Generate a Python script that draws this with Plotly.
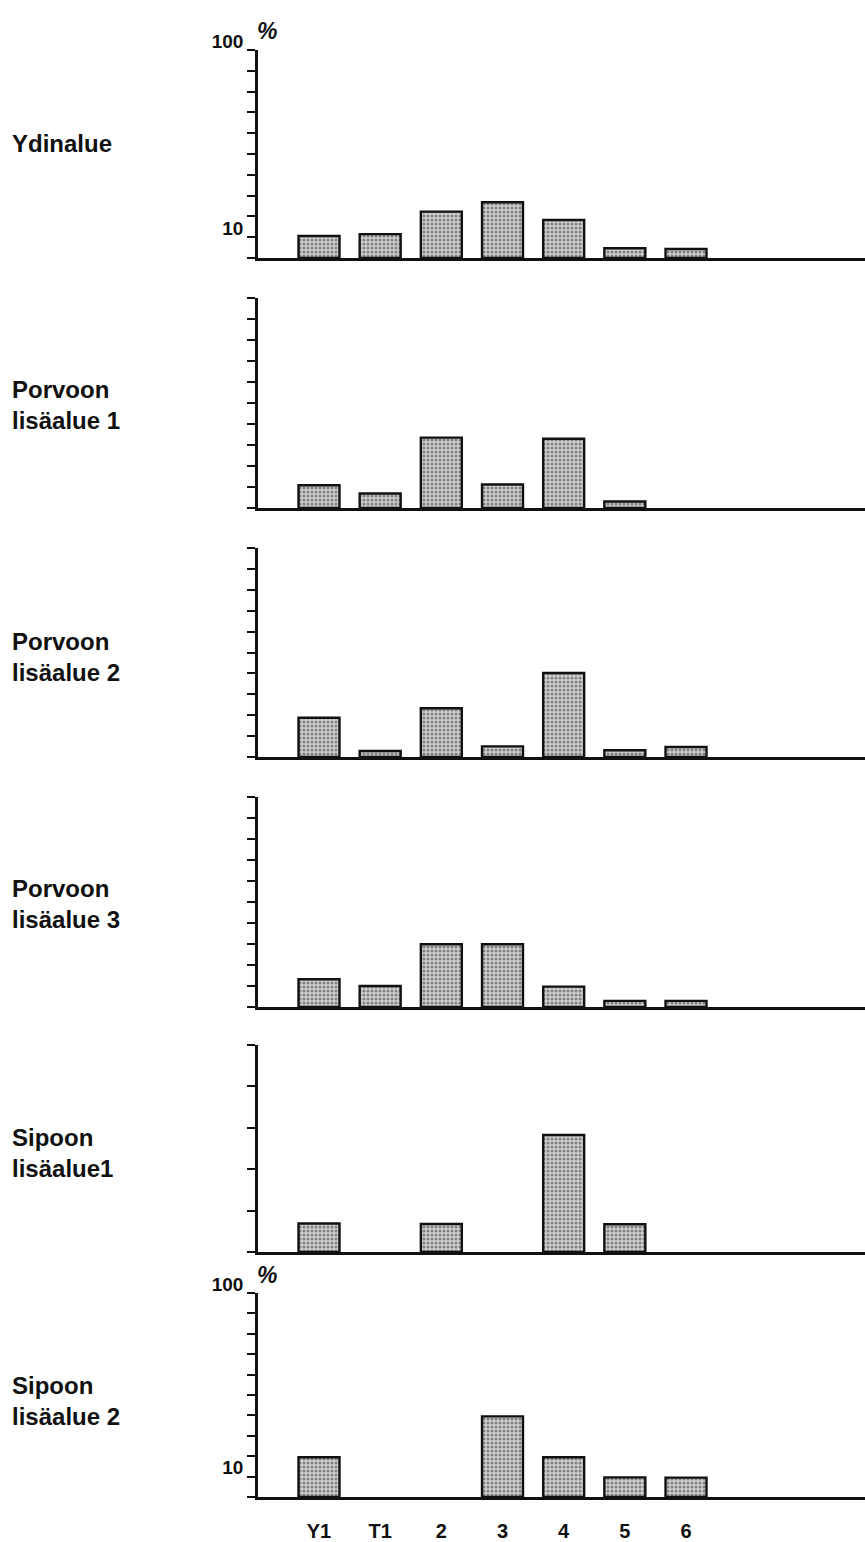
import plotly.graph_objects as go

PAGE_W, PAGE_H = 865, 1542
M = 0  # body margin removed in the page (post_script below)
W, H = PAGE_W - 2 * M, PAGE_H - 2 * M

categories = ["Y1", "T1", "2", "3", "4", "5", "6"]

ydinalue = [10.6, 11.5, 22.3, 26.8, 18.3, 4.7, 4.3]
porvoo_1 = [10.8, 6.9, 33.5, 11.2, 33.0, 3.1, None]
porvoo_2 = [18.8, 2.9, 23.3, 5.1, 40.2, 3.2, 4.8]
porvoo_3 = [13.2, 10.0, 29.9, 29.9, 9.7, 2.9, 2.9]
sipoo_1 = [13.8, None, 13.5, None, 56.5, 13.4, None]
sipoo_2 = [19.5, None, None, 39.5, 19.5, 9.6, 9.5]

panel_names = ["Ydinalue", "Porvoon<br>lisäalue 1", "Porvoon<br>lisäalue 2",
               "Porvoon<br>lisäalue 3", "Sipoon<br>lisäalue1", "Sipoon<br>lisäalue 2"]
series = [ydinalue, porvoo_1, porvoo_2, porvoo_3, sipoo_1, sipoo_2]

# page pixel layout (top of axis, baseline)
panels_px = [(50, 258), (298, 508), (548, 757), (797, 1007), (1045, 1252), (1293, 1497)]
label_y_px = [143, 405, 657, 904, 1153, 1401]


def py(p):
    return 1 - (p - M) / H


def px(p):
    return (p - M) / W


FONT = "Liberation Sans, Arial, DejaVu Sans, sans-serif"

fig = go.Figure()
x_dom = [px(258), 1.0]
c0 = 319.0
step = 61.17
x_range = [(258 - c0) / step, (PAGE_W - M - c0) / step]

for i, (vals, (top, base)) in enumerate(zip(series, panels_px)):
    n = i + 1
    xa = "x" if n == 1 else f"x{n}"
    ya = "y" if n == 1 else f"y{n}"
    fig.add_trace(go.Bar(
        x=categories, y=vals, xaxis=xa, yaxis=ya, width=0.67,
        marker=dict(
            color="#cfcfcf",
            line=dict(color="#111", width=2.4),
            pattern=dict(shape=".", fgcolor="#333", size=4, solidity=0.45, fillmode="overlay"),
        ),
        showlegend=False, hoverinfo="skip",
    ))
    ydom = [py(base), py(top)]
    first_or_last = (n == 1 or n == 6)
    if n == 5:
        tv = [0, 20, 40, 60, 80, 100]
    else:
        tv = list(range(0, 101, 10))
    tt = []
    for v in tv:
        if first_or_last and v == 10:
            tt.append("10")
        elif first_or_last and v == 100:
            tt.append("100")
        else:
            tt.append("")
    xkey = "xaxis" if n == 1 else f"xaxis{n}"
    ykey = "yaxis" if n == 1 else f"yaxis{n}"
    fig.update_layout(**{
        xkey: dict(
            domain=x_dom, anchor=ya, type="category", automargin=False,
            categoryorder="array", categoryarray=categories,
            range=x_range, showline=True, linecolor="#111", linewidth=2.5,
            showgrid=False, zeroline=False, ticks="",
            showticklabels=(n == 6), ticklabelstandoff=14,
            tickfont=dict(family=FONT, size=20, color="#111", weight="bold"),
            fixedrange=True,
        ),
        ykey: dict(
            domain=ydom, anchor=xa, range=[0, 100], showline=True, automargin=False,
            linecolor="#111", linewidth=2.5, showgrid=False, zeroline=False,
            tickmode="array", tickvals=tv, ticktext=tt,
            ticks="outside", ticklen=8, tickwidth=2, tickcolor="#111",
            ticklabelshift=-9,
            tickfont=dict(family=FONT, size=19, color="#111", weight="bold"),
            fixedrange=True,
        ),
    })

annotations = []
for name, ly in zip(panel_names, label_y_px):
    annotations.append(dict(
        text=name, xref="paper", yref="paper", x=px(10), y=py(ly),
        xanchor="left", yanchor="middle", align="left", showarrow=False,
        font=dict(family=FONT, size=24, color="#111", weight="bold"),
    ))
for pyy in (31, 1275):
    annotations.append(dict(
        text="<i>%</i>", xref="paper", yref="paper", x=px(267), y=py(pyy),
        xanchor="center", yanchor="middle", showarrow=False,
        font=dict(family=FONT, size=23, color="#111", weight="bold"),
    ))

fig.update_layout(
    width=W, height=H, margin=dict(l=0, r=0, t=0, b=0, autoexpand=False),
    paper_bgcolor="white", plot_bgcolor="white",
    annotations=annotations, bargap=0.3,
)

fig.write_html(
    "out.html",
    config={"displayModeBar": False},
    post_script="document.body.style.margin='0';document.body.style.padding='0';",
)
